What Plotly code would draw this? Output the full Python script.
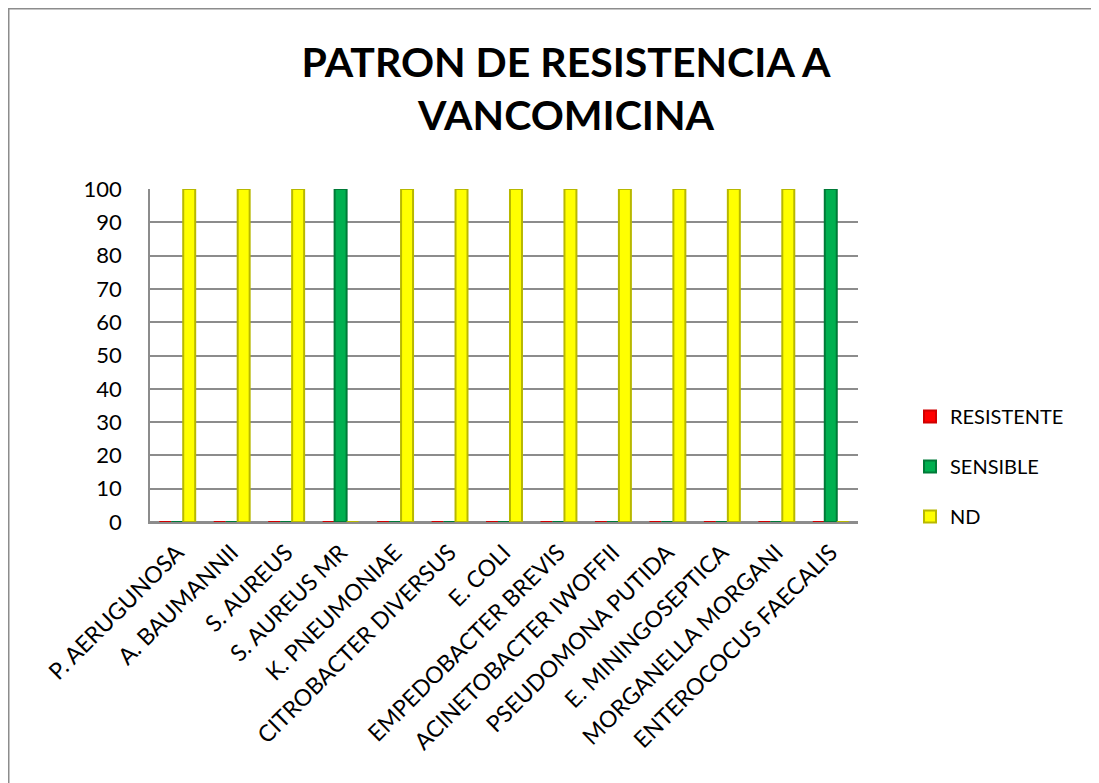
import plotly.graph_objects as go

categories = ["P. AERUGUNOSA", "A. BAUMANNII", "S. AUREUS", "S. AUREUS MR",
              "K. PNEUMONIAE", "CITROBACTER DIVERSUS", "E. COLI",
              "EMPEDOBACTER BREVIS", "ACINETOBACTER IWOFFII",
              "PSEUDOMONA PUTIDA", "E. MININGOSEPTICA", "MORGANELLA MORGANI",
              "ENTEROCOCUS FAECALIS"]
resistente = [0] * 13
sensible = [0, 0, 0, 100, 0, 0, 0, 0, 0, 0, 0, 0, 100]
nd = [100, 100, 100, 0, 100, 100, 100, 100, 100, 100, 100, 100, 0]

# page body has an 8px margin, so figure coords = screen coords - 8
OFF = 8
W, H = 1099, 783
L, T = 150 - OFF, 189 - OFF
R, B = W - (858 - OFF), H - (522 - OFF)
pw, ph = W - L - R, H - T - B

fig = go.Figure()
series = [("RESISTENTE", resistente, "#FF0000", "#D00000"),
          ("SENSIBLE", sensible, "#00B050", "#007A38"),
          ("ND", nd, "#FFFF00", "#B8B800")]
for name, vals, col, edge in series:
    fig.add_trace(go.Bar(x=categories, y=vals, name=name, legendgroup=name,
                         marker=dict(color=col, line=dict(color=edge, width=2))))

font = "Lato, Calibri, 'Open Sans', sans-serif"
fig.update_layout(
    width=W, height=H,
    margin=dict(l=L, r=R, t=T, b=B, autoexpand=False),
    paper_bgcolor="white", plot_bgcolor="white",
    barmode="group", bargap=0.34, bargroupgap=0,
    font=dict(family=font, size=20, color="black"),
    title=dict(text="<b>PATRON DE RESISTENCIA A<br>VANCOMICINA</b>",
               x=558 / W, xanchor="center", y=1 - 69 / H, yanchor="middle",
               font=dict(size=41, family=font)),
    legend=dict(x=(910 - OFF - L) / pw, xanchor="left",
                y=1 - (397 - OFF - T) / ph, yanchor="top",
                font=dict(size=20), tracegroupgap=21,
                traceorder="grouped", bgcolor="rgba(0,0,0,0)"),
    showlegend=True,
)
fig.update_yaxes(range=[0, 100], dtick=10, showgrid=True, gridcolor="#8C8C8C",
                 gridwidth=1.5, showline=True, linecolor="#8C8C8C", linewidth=1.5,
                 ticks="", zeroline=True, zerolinecolor="#8C8C8C",
                 zerolinewidth=2, tickfont=dict(size=22), ticklabelstandoff=22)
fig.update_xaxes(tickangle=-45, showline=True, linecolor="#8C8C8C", linewidth=2,
                 tickfont=dict(size=23), ticklabelstandoff=6)

fig.add_shape(type="rect", xref="paper", yref="paper",
              x0=(0.75 - L) / pw, x1=(W - 0.75 - L) / pw,
              y0=-(B + 10) / ph, y1=1 + (T - 0.75) / ph,
              line=dict(color="#8C8C8C", width=1.5), fillcolor="rgba(0,0,0,0)",
              layer="below")

fig.write_html("out.html")
